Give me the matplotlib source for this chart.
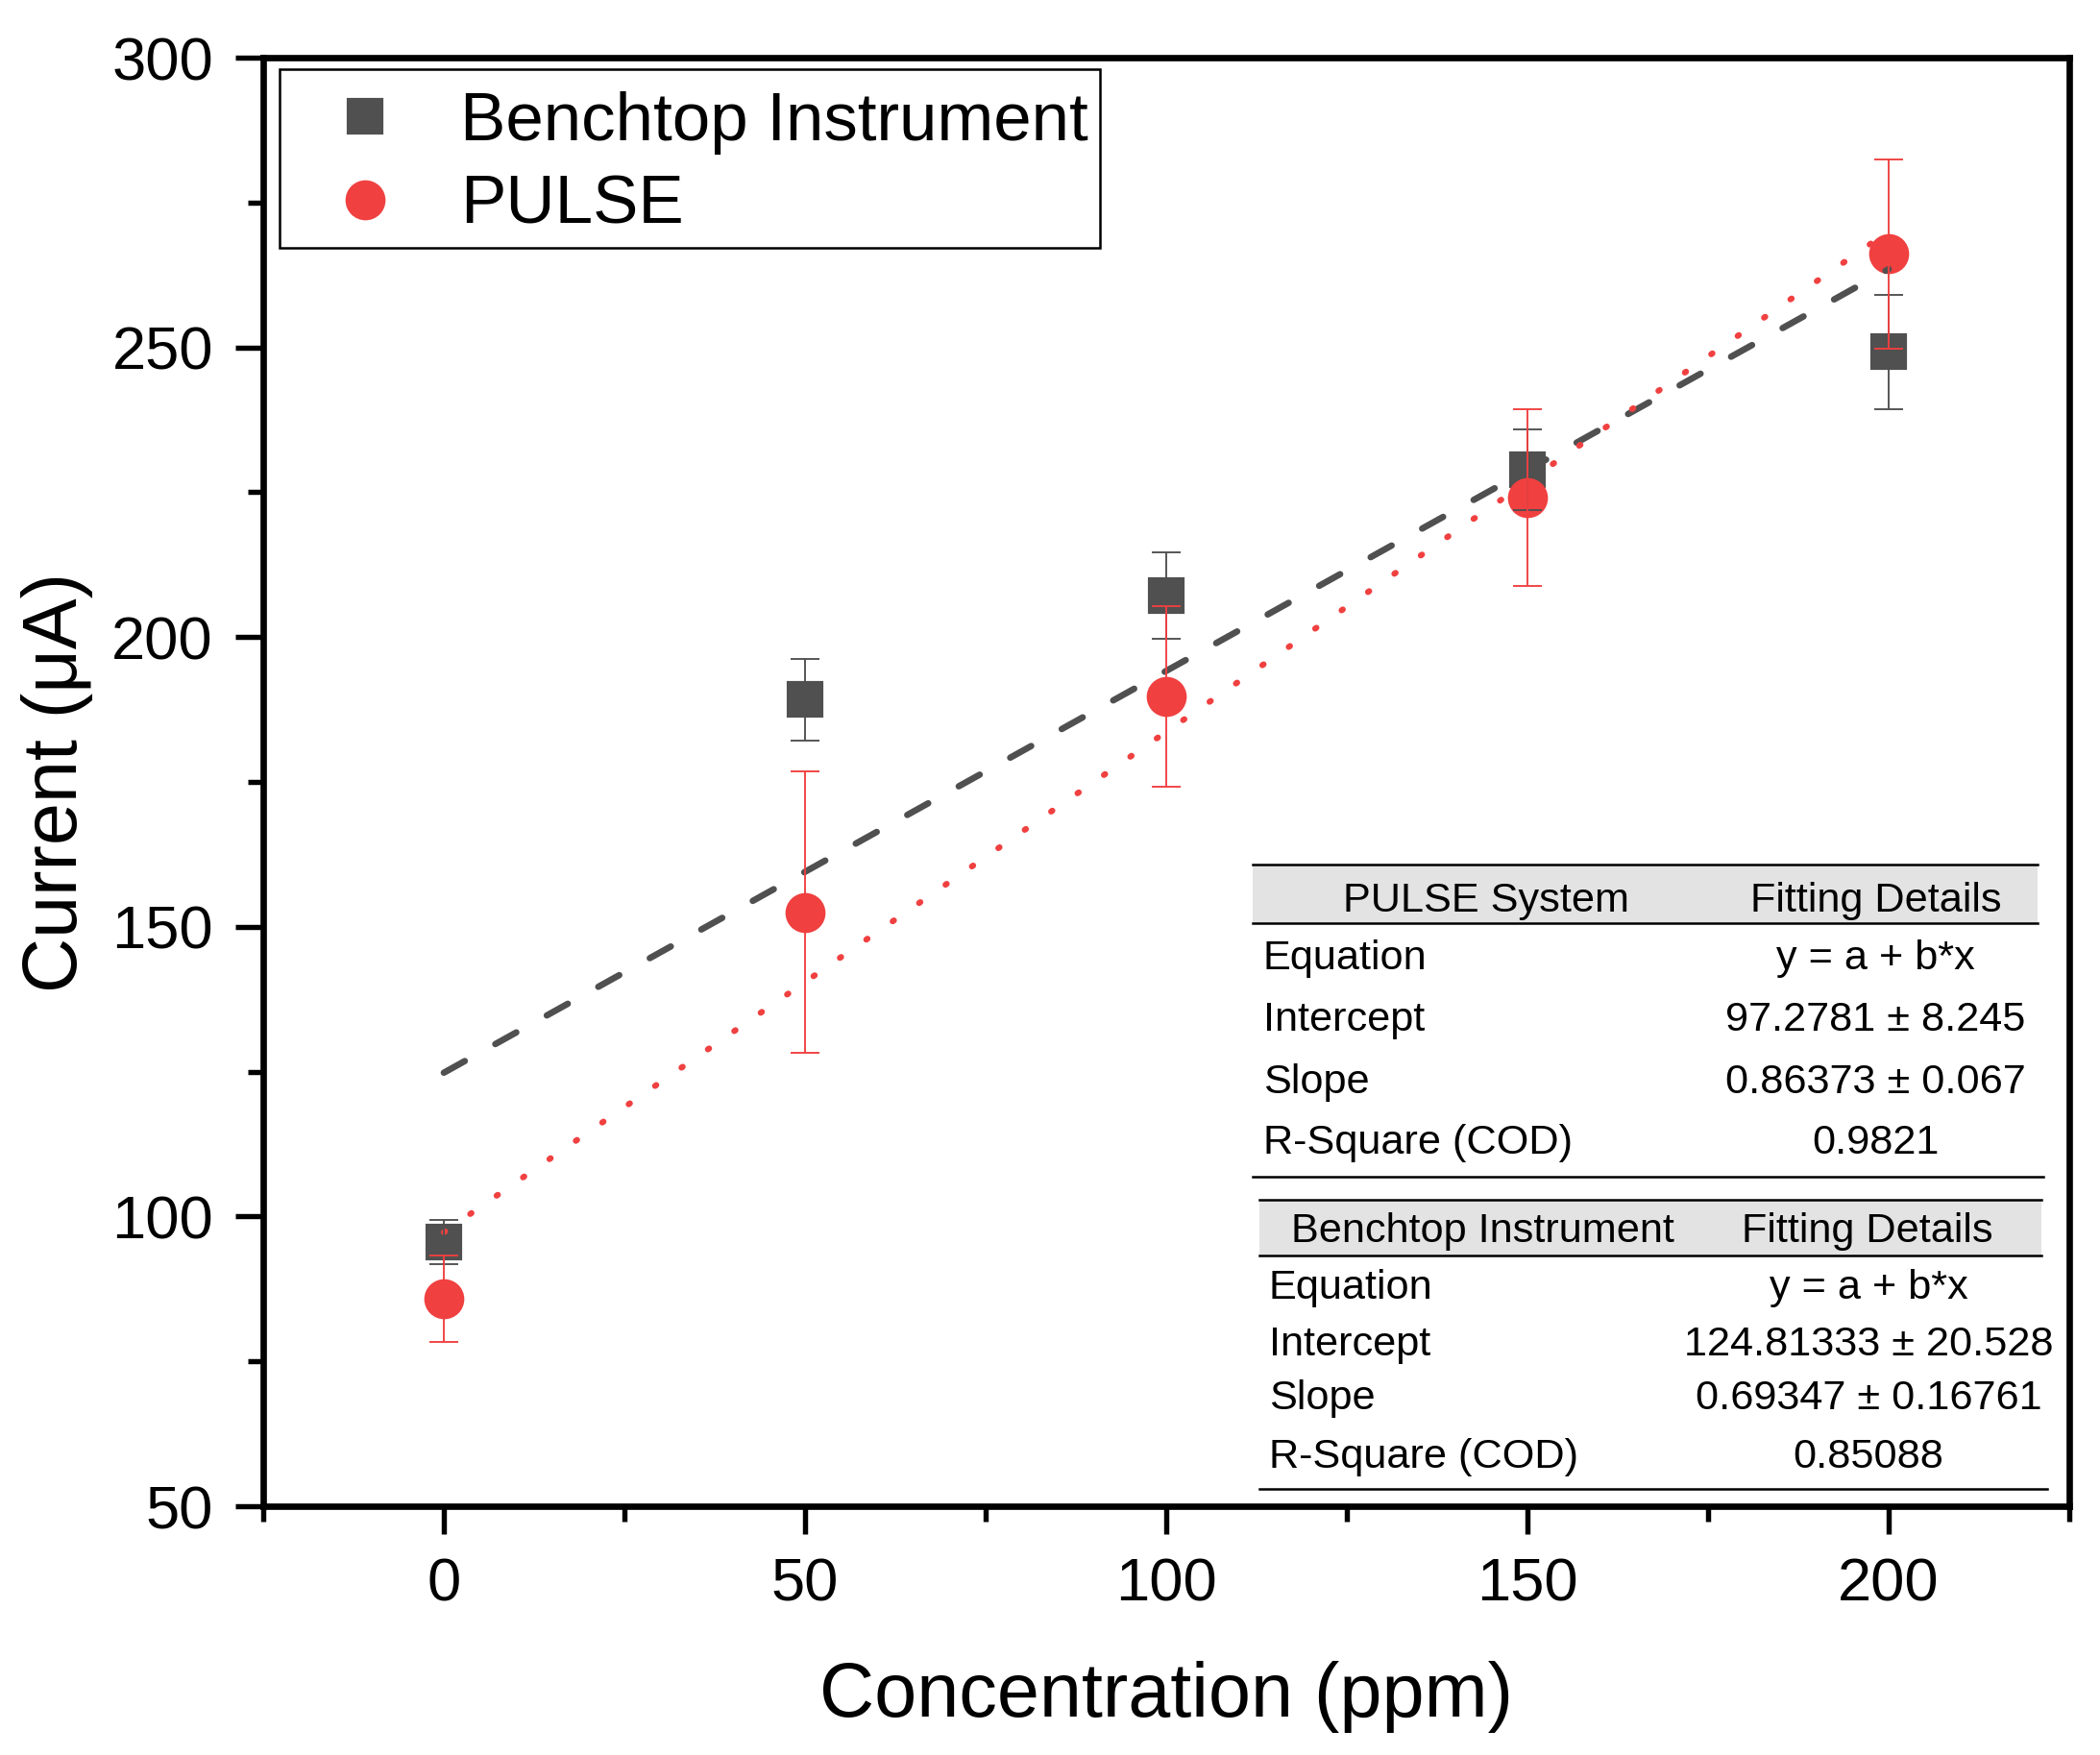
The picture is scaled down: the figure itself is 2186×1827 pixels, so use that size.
import numpy as np
import matplotlib
matplotlib.use('Agg')
import matplotlib.pyplot as plt
from matplotlib.patches import Rectangle
from matplotlib.lines import Line2D

plt.rcParams['font.family'] = ['Liberation Sans', 'DejaVu Sans']

# data
conc = [0, 50, 100, 150, 200]
bench = [95.6, 189.2, 207.2, 228.9, 249.2]
bench_err = [3.8, 7.0, 7.5, 7.0, 9.9]
pulse = [85.8, 152.5, 189.7, 224.1, 266.1]
pulse_err = [7.4, 24.3, 15.6, 15.3, 16.4]

# linear fits y = a + b*x
pulse_fit = (97.2781, 0.86373)
bench_fit = (124.81333, 0.69347)

row_names = ['Equation', 'Intercept', 'Slope', 'R-Square (COD)']
pulse_vals = ['y = a + b*x', '97.2781 ± 8.245', '0.86373 ± 0.067', '0.9821']
bench_vals = ['y = a + b*x', '124.81333 ± 20.528', '0.69347 ± 0.16761', '0.85088']

gray = '#505050'
red = '#F04040'

W, H = 2186, 1827
L, R, T, B = 274, 2154, 60, 1568
fig = plt.figure(figsize=(W / 300, H / 300), dpi=300)
ax = fig.add_axes([L / W, 1 - B / H, (R - L) / W, (B - T) / H])

# markers
h_bench, = ax.plot(conc, bench, 's', color=gray, ms=8, mec=gray, zorder=2,
                   label='Benchtop Instrument')
h_pulse, = ax.plot(conc, pulse, 'o', color=red, ms=9, mec=red, zorder=3,
                   label='PULSE')

# fit lines
xf = np.array([0, 200])
ax.plot(xf, bench_fit[0] + bench_fit[1] * xf, color=gray, lw=1.6,
        ls=(0, (3.75, 5.45)), dash_capstyle='round', zorder=4)
ax.plot(xf, pulse_fit[0] + pulse_fit[1] * xf, color=red, lw=1.5,
        ls=(0, (0.25, 5.1)), dash_capstyle='round', zorder=4)

# error bars
ax.errorbar(conc, bench, yerr=bench_err, fmt='none', ecolor=gray,
            elinewidth=0.45, capsize=3.6, capthick=0.45, zorder=5)
ax.errorbar(conc, pulse, yerr=pulse_err, fmt='none', ecolor=red,
            elinewidth=0.45, capsize=3.6, capthick=0.45, zorder=5)

ax.set_xlim(-25, 225)
ax.set_ylim(50, 300)
ax.set_xticks([0, 50, 100, 150, 200])
ax.set_xticks([-25, 25, 75, 125, 175, 225], minor=True)
ax.set_yticks([50, 100, 150, 200, 250, 300])
ax.set_yticks([75, 125, 175, 225, 275], minor=True)
ax.tick_params(which='major', length=7, width=1.3, direction='out',
               labelsize=15.2, pad=5.5)
ax.tick_params(which='minor', length=3.8, width=1.3, direction='out')
for s in ax.spines.values():
    s.set_linewidth(1.6)

ax.set_xlabel('Concentration (ppm)', fontsize=19, labelpad=12)
ax.set_ylabel('Current (μA)', fontsize=19, labelpad=4.5)


# positions in pixels of the figure
def fx(px):
    return px / W


def fy(py):
    return 1 - py / H


# legend (frame drawn separately so the padding matches)
leg = ax.legend(handles=[h_bench, h_pulse], loc='upper left',
                bbox_to_anchor=((291 - L) / (R - L), (B - 74) / (B - T)),
                borderaxespad=0, frameon=False, fontsize=17,
                handlelength=1.9, handletextpad=0.45, borderpad=0.3,
                labelspacing=0.29)
fig.add_artist(Rectangle((fx(291), fy(258)), fx(1145) - fx(291),
                         fy(72) - fy(258), facecolor='none', edgecolor='black',
                         lw=0.6, transform=fig.transFigure, zorder=6))


def hline(x0, x1, py):
    fig.add_artist(Line2D([fx(x0), fx(x1)], [fy(py), fy(py)], color='black',
                          lw=0.6, transform=fig.transFigure))


def table(x0, x1, top, bot, head_y, c1, c2, title, rows_y, lab_x, val_x,
          vals, end_y, fs=10.4):
    fig.add_artist(Rectangle((fx(x0), fy(bot)), fx(x1) - fx(x0),
                             fy(top) - fy(bot), facecolor='#E3E3E3',
                             edgecolor='none', transform=fig.transFigure))
    hline(x0, x1, top)
    hline(x0, x1, bot)
    hline(x0, x1 + 6, end_y)
    fig.text(fx(c1), fy(head_y + 15), title, ha='center', va='baseline', fontsize=fs)
    fig.text(fx(c2), fy(head_y + 15), 'Fitting Details', ha='center',
             va='baseline', fontsize=fs)
    for name, v, yy in zip(row_names, vals, rows_y):
        fig.text(fx(lab_x), fy(yy + 15), name, ha='left', va='baseline', fontsize=fs)
        fig.text(fx(val_x), fy(yy + 15), v, ha='center', va='baseline', fontsize=fs)


table(1304, 2121, 900, 961, 934, 1547, 1953, 'PULSE System',
      [994, 1058, 1123, 1186], 1315, 1952, pulse_vals, 1225)
table(1311, 2125, 1249, 1307, 1278, 1543, 1944, 'Benchtop Instrument',
      [1337, 1396, 1452, 1513], 1321, 1945, bench_vals, 1550)

fig.savefig('out.png', dpi=300)
